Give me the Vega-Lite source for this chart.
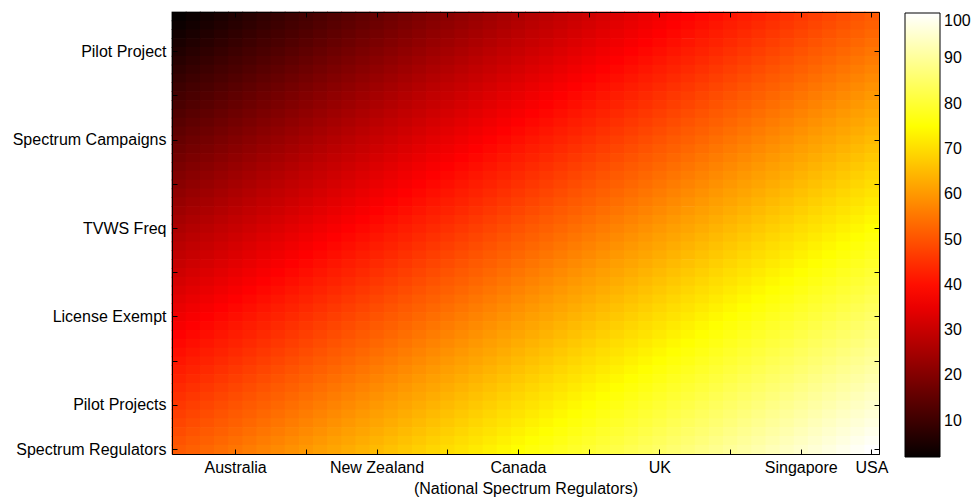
{
"$schema": "https://vega.github.io/schema/vega-lite/v6.json",
"width": 707,
"height": 442,
"autosize": "none",
"padding": {"left": 172, "top": 12, "right": 92, "bottom": 46},
"background": "white",
"config": {
  "font": "Liberation Sans",
  "view": {"stroke": "black", "strokeWidth": 1},
  "axis": {"domain": true, "domainColor": "black", "tickColor": "black", "tickSize": -5, "labelColor": "black", "labelFont": "Liberation Sans", "labelFontSize": 16, "labelOverlap": false, "grid": false, "titleFont": "Liberation Sans", "titleFontSize": 16, "titleFontWeight": "normal", "titleColor": "black"},
  "legend": {"labelFont": "Liberation Sans", "labelFontSize": 16, "labelColor": "black"}
},
"data": {"values": [
{"x":1,"y":1,"v":2},{"x":2,"y":1,"v":3},{"x":3,"y":1,"v":4},{"x":4,"y":1,"v":5},{"x":5,"y":1,"v":6},{"x":6,"y":1,"v":7},{"x":7,"y":1,"v":8},{"x":8,"y":1,"v":9},{"x":9,"y":1,"v":10},{"x":10,"y":1,"v":11},{"x":11,"y":1,"v":12},{"x":12,"y":1,"v":13},{"x":13,"y":1,"v":14},{"x":14,"y":1,"v":15},{"x":15,"y":1,"v":16},{"x":16,"y":1,"v":17},{"x":17,"y":1,"v":18},{"x":18,"y":1,"v":19},{"x":19,"y":1,"v":20},{"x":20,"y":1,"v":21},{"x":21,"y":1,"v":22},{"x":22,"y":1,"v":23},{"x":23,"y":1,"v":24},{"x":24,"y":1,"v":25},{"x":25,"y":1,"v":26},{"x":26,"y":1,"v":27},{"x":27,"y":1,"v":28},{"x":28,"y":1,"v":29},{"x":29,"y":1,"v":30},{"x":30,"y":1,"v":31},{"x":31,"y":1,"v":32},{"x":32,"y":1,"v":33},{"x":33,"y":1,"v":34},{"x":34,"y":1,"v":35},{"x":35,"y":1,"v":36},{"x":36,"y":1,"v":37},{"x":37,"y":1,"v":38},{"x":38,"y":1,"v":39},{"x":39,"y":1,"v":40},{"x":40,"y":1,"v":41},{"x":41,"y":1,"v":42},{"x":42,"y":1,"v":43},{"x":43,"y":1,"v":44},{"x":44,"y":1,"v":45},{"x":45,"y":1,"v":46},{"x":46,"y":1,"v":47},{"x":47,"y":1,"v":48},{"x":48,"y":1,"v":49},{"x":49,"y":1,"v":50},{"x":50,"y":1,"v":51},
{"x":1,"y":2,"v":3},{"x":2,"y":2,"v":4},{"x":3,"y":2,"v":5},{"x":4,"y":2,"v":6},{"x":5,"y":2,"v":7},{"x":6,"y":2,"v":8},{"x":7,"y":2,"v":9},{"x":8,"y":2,"v":10},{"x":9,"y":2,"v":11},{"x":10,"y":2,"v":12},{"x":11,"y":2,"v":13},{"x":12,"y":2,"v":14},{"x":13,"y":2,"v":15},{"x":14,"y":2,"v":16},{"x":15,"y":2,"v":17},{"x":16,"y":2,"v":18},{"x":17,"y":2,"v":19},{"x":18,"y":2,"v":20},{"x":19,"y":2,"v":21},{"x":20,"y":2,"v":22},{"x":21,"y":2,"v":23},{"x":22,"y":2,"v":24},{"x":23,"y":2,"v":25},{"x":24,"y":2,"v":26},{"x":25,"y":2,"v":27},{"x":26,"y":2,"v":28},{"x":27,"y":2,"v":29},{"x":28,"y":2,"v":30},{"x":29,"y":2,"v":31},{"x":30,"y":2,"v":32},{"x":31,"y":2,"v":33},{"x":32,"y":2,"v":34},{"x":33,"y":2,"v":35},{"x":34,"y":2,"v":36},{"x":35,"y":2,"v":37},{"x":36,"y":2,"v":38},{"x":37,"y":2,"v":39},{"x":38,"y":2,"v":40},{"x":39,"y":2,"v":41},{"x":40,"y":2,"v":42},{"x":41,"y":2,"v":43},{"x":42,"y":2,"v":44},{"x":43,"y":2,"v":45},{"x":44,"y":2,"v":46},{"x":45,"y":2,"v":47},{"x":46,"y":2,"v":48},{"x":47,"y":2,"v":49},{"x":48,"y":2,"v":50},{"x":49,"y":2,"v":51},{"x":50,"y":2,"v":52},
{"x":1,"y":3,"v":4},{"x":2,"y":3,"v":5},{"x":3,"y":3,"v":6},{"x":4,"y":3,"v":7},{"x":5,"y":3,"v":8},{"x":6,"y":3,"v":9},{"x":7,"y":3,"v":10},{"x":8,"y":3,"v":11},{"x":9,"y":3,"v":12},{"x":10,"y":3,"v":13},{"x":11,"y":3,"v":14},{"x":12,"y":3,"v":15},{"x":13,"y":3,"v":16},{"x":14,"y":3,"v":17},{"x":15,"y":3,"v":18},{"x":16,"y":3,"v":19},{"x":17,"y":3,"v":20},{"x":18,"y":3,"v":21},{"x":19,"y":3,"v":22},{"x":20,"y":3,"v":23},{"x":21,"y":3,"v":24},{"x":22,"y":3,"v":25},{"x":23,"y":3,"v":26},{"x":24,"y":3,"v":27},{"x":25,"y":3,"v":28},{"x":26,"y":3,"v":29},{"x":27,"y":3,"v":30},{"x":28,"y":3,"v":31},{"x":29,"y":3,"v":32},{"x":30,"y":3,"v":33},{"x":31,"y":3,"v":34},{"x":32,"y":3,"v":35},{"x":33,"y":3,"v":36},{"x":34,"y":3,"v":37},{"x":35,"y":3,"v":38},{"x":36,"y":3,"v":39},{"x":37,"y":3,"v":40},{"x":38,"y":3,"v":41},{"x":39,"y":3,"v":42},{"x":40,"y":3,"v":43},{"x":41,"y":3,"v":44},{"x":42,"y":3,"v":45},{"x":43,"y":3,"v":46},{"x":44,"y":3,"v":47},{"x":45,"y":3,"v":48},{"x":46,"y":3,"v":49},{"x":47,"y":3,"v":50},{"x":48,"y":3,"v":51},{"x":49,"y":3,"v":52},{"x":50,"y":3,"v":53},
{"x":1,"y":4,"v":5},{"x":2,"y":4,"v":6},{"x":3,"y":4,"v":7},{"x":4,"y":4,"v":8},{"x":5,"y":4,"v":9},{"x":6,"y":4,"v":10},{"x":7,"y":4,"v":11},{"x":8,"y":4,"v":12},{"x":9,"y":4,"v":13},{"x":10,"y":4,"v":14},{"x":11,"y":4,"v":15},{"x":12,"y":4,"v":16},{"x":13,"y":4,"v":17},{"x":14,"y":4,"v":18},{"x":15,"y":4,"v":19},{"x":16,"y":4,"v":20},{"x":17,"y":4,"v":21},{"x":18,"y":4,"v":22},{"x":19,"y":4,"v":23},{"x":20,"y":4,"v":24},{"x":21,"y":4,"v":25},{"x":22,"y":4,"v":26},{"x":23,"y":4,"v":27},{"x":24,"y":4,"v":28},{"x":25,"y":4,"v":29},{"x":26,"y":4,"v":30},{"x":27,"y":4,"v":31},{"x":28,"y":4,"v":32},{"x":29,"y":4,"v":33},{"x":30,"y":4,"v":34},{"x":31,"y":4,"v":35},{"x":32,"y":4,"v":36},{"x":33,"y":4,"v":37},{"x":34,"y":4,"v":38},{"x":35,"y":4,"v":39},{"x":36,"y":4,"v":40},{"x":37,"y":4,"v":41},{"x":38,"y":4,"v":42},{"x":39,"y":4,"v":43},{"x":40,"y":4,"v":44},{"x":41,"y":4,"v":45},{"x":42,"y":4,"v":46},{"x":43,"y":4,"v":47},{"x":44,"y":4,"v":48},{"x":45,"y":4,"v":49},{"x":46,"y":4,"v":50},{"x":47,"y":4,"v":51},{"x":48,"y":4,"v":52},{"x":49,"y":4,"v":53},{"x":50,"y":4,"v":54},
{"x":1,"y":5,"v":6},{"x":2,"y":5,"v":7},{"x":3,"y":5,"v":8},{"x":4,"y":5,"v":9},{"x":5,"y":5,"v":10},{"x":6,"y":5,"v":11},{"x":7,"y":5,"v":12},{"x":8,"y":5,"v":13},{"x":9,"y":5,"v":14},{"x":10,"y":5,"v":15},{"x":11,"y":5,"v":16},{"x":12,"y":5,"v":17},{"x":13,"y":5,"v":18},{"x":14,"y":5,"v":19},{"x":15,"y":5,"v":20},{"x":16,"y":5,"v":21},{"x":17,"y":5,"v":22},{"x":18,"y":5,"v":23},{"x":19,"y":5,"v":24},{"x":20,"y":5,"v":25},{"x":21,"y":5,"v":26},{"x":22,"y":5,"v":27},{"x":23,"y":5,"v":28},{"x":24,"y":5,"v":29},{"x":25,"y":5,"v":30},{"x":26,"y":5,"v":31},{"x":27,"y":5,"v":32},{"x":28,"y":5,"v":33},{"x":29,"y":5,"v":34},{"x":30,"y":5,"v":35},{"x":31,"y":5,"v":36},{"x":32,"y":5,"v":37},{"x":33,"y":5,"v":38},{"x":34,"y":5,"v":39},{"x":35,"y":5,"v":40},{"x":36,"y":5,"v":41},{"x":37,"y":5,"v":42},{"x":38,"y":5,"v":43},{"x":39,"y":5,"v":44},{"x":40,"y":5,"v":45},{"x":41,"y":5,"v":46},{"x":42,"y":5,"v":47},{"x":43,"y":5,"v":48},{"x":44,"y":5,"v":49},{"x":45,"y":5,"v":50},{"x":46,"y":5,"v":51},{"x":47,"y":5,"v":52},{"x":48,"y":5,"v":53},{"x":49,"y":5,"v":54},{"x":50,"y":5,"v":55},
{"x":1,"y":6,"v":7},{"x":2,"y":6,"v":8},{"x":3,"y":6,"v":9},{"x":4,"y":6,"v":10},{"x":5,"y":6,"v":11},{"x":6,"y":6,"v":12},{"x":7,"y":6,"v":13},{"x":8,"y":6,"v":14},{"x":9,"y":6,"v":15},{"x":10,"y":6,"v":16},{"x":11,"y":6,"v":17},{"x":12,"y":6,"v":18},{"x":13,"y":6,"v":19},{"x":14,"y":6,"v":20},{"x":15,"y":6,"v":21},{"x":16,"y":6,"v":22},{"x":17,"y":6,"v":23},{"x":18,"y":6,"v":24},{"x":19,"y":6,"v":25},{"x":20,"y":6,"v":26},{"x":21,"y":6,"v":27},{"x":22,"y":6,"v":28},{"x":23,"y":6,"v":29},{"x":24,"y":6,"v":30},{"x":25,"y":6,"v":31},{"x":26,"y":6,"v":32},{"x":27,"y":6,"v":33},{"x":28,"y":6,"v":34},{"x":29,"y":6,"v":35},{"x":30,"y":6,"v":36},{"x":31,"y":6,"v":37},{"x":32,"y":6,"v":38},{"x":33,"y":6,"v":39},{"x":34,"y":6,"v":40},{"x":35,"y":6,"v":41},{"x":36,"y":6,"v":42},{"x":37,"y":6,"v":43},{"x":38,"y":6,"v":44},{"x":39,"y":6,"v":45},{"x":40,"y":6,"v":46},{"x":41,"y":6,"v":47},{"x":42,"y":6,"v":48},{"x":43,"y":6,"v":49},{"x":44,"y":6,"v":50},{"x":45,"y":6,"v":51},{"x":46,"y":6,"v":52},{"x":47,"y":6,"v":53},{"x":48,"y":6,"v":54},{"x":49,"y":6,"v":55},{"x":50,"y":6,"v":56},
{"x":1,"y":7,"v":8},{"x":2,"y":7,"v":9},{"x":3,"y":7,"v":10},{"x":4,"y":7,"v":11},{"x":5,"y":7,"v":12},{"x":6,"y":7,"v":13},{"x":7,"y":7,"v":14},{"x":8,"y":7,"v":15},{"x":9,"y":7,"v":16},{"x":10,"y":7,"v":17},{"x":11,"y":7,"v":18},{"x":12,"y":7,"v":19},{"x":13,"y":7,"v":20},{"x":14,"y":7,"v":21},{"x":15,"y":7,"v":22},{"x":16,"y":7,"v":23},{"x":17,"y":7,"v":24},{"x":18,"y":7,"v":25},{"x":19,"y":7,"v":26},{"x":20,"y":7,"v":27},{"x":21,"y":7,"v":28},{"x":22,"y":7,"v":29},{"x":23,"y":7,"v":30},{"x":24,"y":7,"v":31},{"x":25,"y":7,"v":32},{"x":26,"y":7,"v":33},{"x":27,"y":7,"v":34},{"x":28,"y":7,"v":35},{"x":29,"y":7,"v":36},{"x":30,"y":7,"v":37},{"x":31,"y":7,"v":38},{"x":32,"y":7,"v":39},{"x":33,"y":7,"v":40},{"x":34,"y":7,"v":41},{"x":35,"y":7,"v":42},{"x":36,"y":7,"v":43},{"x":37,"y":7,"v":44},{"x":38,"y":7,"v":45},{"x":39,"y":7,"v":46},{"x":40,"y":7,"v":47},{"x":41,"y":7,"v":48},{"x":42,"y":7,"v":49},{"x":43,"y":7,"v":50},{"x":44,"y":7,"v":51},{"x":45,"y":7,"v":52},{"x":46,"y":7,"v":53},{"x":47,"y":7,"v":54},{"x":48,"y":7,"v":55},{"x":49,"y":7,"v":56},{"x":50,"y":7,"v":57},
{"x":1,"y":8,"v":9},{"x":2,"y":8,"v":10},{"x":3,"y":8,"v":11},{"x":4,"y":8,"v":12},{"x":5,"y":8,"v":13},{"x":6,"y":8,"v":14},{"x":7,"y":8,"v":15},{"x":8,"y":8,"v":16},{"x":9,"y":8,"v":17},{"x":10,"y":8,"v":18},{"x":11,"y":8,"v":19},{"x":12,"y":8,"v":20},{"x":13,"y":8,"v":21},{"x":14,"y":8,"v":22},{"x":15,"y":8,"v":23},{"x":16,"y":8,"v":24},{"x":17,"y":8,"v":25},{"x":18,"y":8,"v":26},{"x":19,"y":8,"v":27},{"x":20,"y":8,"v":28},{"x":21,"y":8,"v":29},{"x":22,"y":8,"v":30},{"x":23,"y":8,"v":31},{"x":24,"y":8,"v":32},{"x":25,"y":8,"v":33},{"x":26,"y":8,"v":34},{"x":27,"y":8,"v":35},{"x":28,"y":8,"v":36},{"x":29,"y":8,"v":37},{"x":30,"y":8,"v":38},{"x":31,"y":8,"v":39},{"x":32,"y":8,"v":40},{"x":33,"y":8,"v":41},{"x":34,"y":8,"v":42},{"x":35,"y":8,"v":43},{"x":36,"y":8,"v":44},{"x":37,"y":8,"v":45},{"x":38,"y":8,"v":46},{"x":39,"y":8,"v":47},{"x":40,"y":8,"v":48},{"x":41,"y":8,"v":49},{"x":42,"y":8,"v":50},{"x":43,"y":8,"v":51},{"x":44,"y":8,"v":52},{"x":45,"y":8,"v":53},{"x":46,"y":8,"v":54},{"x":47,"y":8,"v":55},{"x":48,"y":8,"v":56},{"x":49,"y":8,"v":57},{"x":50,"y":8,"v":58},
{"x":1,"y":9,"v":10},{"x":2,"y":9,"v":11},{"x":3,"y":9,"v":12},{"x":4,"y":9,"v":13},{"x":5,"y":9,"v":14},{"x":6,"y":9,"v":15},{"x":7,"y":9,"v":16},{"x":8,"y":9,"v":17},{"x":9,"y":9,"v":18},{"x":10,"y":9,"v":19},{"x":11,"y":9,"v":20},{"x":12,"y":9,"v":21},{"x":13,"y":9,"v":22},{"x":14,"y":9,"v":23},{"x":15,"y":9,"v":24},{"x":16,"y":9,"v":25},{"x":17,"y":9,"v":26},{"x":18,"y":9,"v":27},{"x":19,"y":9,"v":28},{"x":20,"y":9,"v":29},{"x":21,"y":9,"v":30},{"x":22,"y":9,"v":31},{"x":23,"y":9,"v":32},{"x":24,"y":9,"v":33},{"x":25,"y":9,"v":34},{"x":26,"y":9,"v":35},{"x":27,"y":9,"v":36},{"x":28,"y":9,"v":37},{"x":29,"y":9,"v":38},{"x":30,"y":9,"v":39},{"x":31,"y":9,"v":40},{"x":32,"y":9,"v":41},{"x":33,"y":9,"v":42},{"x":34,"y":9,"v":43},{"x":35,"y":9,"v":44},{"x":36,"y":9,"v":45},{"x":37,"y":9,"v":46},{"x":38,"y":9,"v":47},{"x":39,"y":9,"v":48},{"x":40,"y":9,"v":49},{"x":41,"y":9,"v":50},{"x":42,"y":9,"v":51},{"x":43,"y":9,"v":52},{"x":44,"y":9,"v":53},{"x":45,"y":9,"v":54},{"x":46,"y":9,"v":55},{"x":47,"y":9,"v":56},{"x":48,"y":9,"v":57},{"x":49,"y":9,"v":58},{"x":50,"y":9,"v":59},
{"x":1,"y":10,"v":11},{"x":2,"y":10,"v":12},{"x":3,"y":10,"v":13},{"x":4,"y":10,"v":14},{"x":5,"y":10,"v":15},{"x":6,"y":10,"v":16},{"x":7,"y":10,"v":17},{"x":8,"y":10,"v":18},{"x":9,"y":10,"v":19},{"x":10,"y":10,"v":20},{"x":11,"y":10,"v":21},{"x":12,"y":10,"v":22},{"x":13,"y":10,"v":23},{"x":14,"y":10,"v":24},{"x":15,"y":10,"v":25},{"x":16,"y":10,"v":26},{"x":17,"y":10,"v":27},{"x":18,"y":10,"v":28},{"x":19,"y":10,"v":29},{"x":20,"y":10,"v":30},{"x":21,"y":10,"v":31},{"x":22,"y":10,"v":32},{"x":23,"y":10,"v":33},{"x":24,"y":10,"v":34},{"x":25,"y":10,"v":35},{"x":26,"y":10,"v":36},{"x":27,"y":10,"v":37},{"x":28,"y":10,"v":38},{"x":29,"y":10,"v":39},{"x":30,"y":10,"v":40},{"x":31,"y":10,"v":41},{"x":32,"y":10,"v":42},{"x":33,"y":10,"v":43},{"x":34,"y":10,"v":44},{"x":35,"y":10,"v":45},{"x":36,"y":10,"v":46},{"x":37,"y":10,"v":47},{"x":38,"y":10,"v":48},{"x":39,"y":10,"v":49},{"x":40,"y":10,"v":50},{"x":41,"y":10,"v":51},{"x":42,"y":10,"v":52},{"x":43,"y":10,"v":53},{"x":44,"y":10,"v":54},{"x":45,"y":10,"v":55},{"x":46,"y":10,"v":56},{"x":47,"y":10,"v":57},{"x":48,"y":10,"v":58},{"x":49,"y":10,"v":59},{"x":50,"y":10,"v":60},
{"x":1,"y":11,"v":12},{"x":2,"y":11,"v":13},{"x":3,"y":11,"v":14},{"x":4,"y":11,"v":15},{"x":5,"y":11,"v":16},{"x":6,"y":11,"v":17},{"x":7,"y":11,"v":18},{"x":8,"y":11,"v":19},{"x":9,"y":11,"v":20},{"x":10,"y":11,"v":21},{"x":11,"y":11,"v":22},{"x":12,"y":11,"v":23},{"x":13,"y":11,"v":24},{"x":14,"y":11,"v":25},{"x":15,"y":11,"v":26},{"x":16,"y":11,"v":27},{"x":17,"y":11,"v":28},{"x":18,"y":11,"v":29},{"x":19,"y":11,"v":30},{"x":20,"y":11,"v":31},{"x":21,"y":11,"v":32},{"x":22,"y":11,"v":33},{"x":23,"y":11,"v":34},{"x":24,"y":11,"v":35},{"x":25,"y":11,"v":36},{"x":26,"y":11,"v":37},{"x":27,"y":11,"v":38},{"x":28,"y":11,"v":39},{"x":29,"y":11,"v":40},{"x":30,"y":11,"v":41},{"x":31,"y":11,"v":42},{"x":32,"y":11,"v":43},{"x":33,"y":11,"v":44},{"x":34,"y":11,"v":45},{"x":35,"y":11,"v":46},{"x":36,"y":11,"v":47},{"x":37,"y":11,"v":48},{"x":38,"y":11,"v":49},{"x":39,"y":11,"v":50},{"x":40,"y":11,"v":51},{"x":41,"y":11,"v":52},{"x":42,"y":11,"v":53},{"x":43,"y":11,"v":54},{"x":44,"y":11,"v":55},{"x":45,"y":11,"v":56},{"x":46,"y":11,"v":57},{"x":47,"y":11,"v":58},{"x":48,"y":11,"v":59},{"x":49,"y":11,"v":60},{"x":50,"y":11,"v":61},
{"x":1,"y":12,"v":13},{"x":2,"y":12,"v":14},{"x":3,"y":12,"v":15},{"x":4,"y":12,"v":16},{"x":5,"y":12,"v":17},{"x":6,"y":12,"v":18},{"x":7,"y":12,"v":19},{"x":8,"y":12,"v":20},{"x":9,"y":12,"v":21},{"x":10,"y":12,"v":22},{"x":11,"y":12,"v":23},{"x":12,"y":12,"v":24},{"x":13,"y":12,"v":25},{"x":14,"y":12,"v":26},{"x":15,"y":12,"v":27},{"x":16,"y":12,"v":28},{"x":17,"y":12,"v":29},{"x":18,"y":12,"v":30},{"x":19,"y":12,"v":31},{"x":20,"y":12,"v":32},{"x":21,"y":12,"v":33},{"x":22,"y":12,"v":34},{"x":23,"y":12,"v":35},{"x":24,"y":12,"v":36},{"x":25,"y":12,"v":37},{"x":26,"y":12,"v":38},{"x":27,"y":12,"v":39},{"x":28,"y":12,"v":40},{"x":29,"y":12,"v":41},{"x":30,"y":12,"v":42},{"x":31,"y":12,"v":43},{"x":32,"y":12,"v":44},{"x":33,"y":12,"v":45},{"x":34,"y":12,"v":46},{"x":35,"y":12,"v":47},{"x":36,"y":12,"v":48},{"x":37,"y":12,"v":49},{"x":38,"y":12,"v":50},{"x":39,"y":12,"v":51},{"x":40,"y":12,"v":52},{"x":41,"y":12,"v":53},{"x":42,"y":12,"v":54},{"x":43,"y":12,"v":55},{"x":44,"y":12,"v":56},{"x":45,"y":12,"v":57},{"x":46,"y":12,"v":58},{"x":47,"y":12,"v":59},{"x":48,"y":12,"v":60},{"x":49,"y":12,"v":61},{"x":50,"y":12,"v":62},
{"x":1,"y":13,"v":14},{"x":2,"y":13,"v":15},{"x":3,"y":13,"v":16},{"x":4,"y":13,"v":17},{"x":5,"y":13,"v":18},{"x":6,"y":13,"v":19},{"x":7,"y":13,"v":20},{"x":8,"y":13,"v":21},{"x":9,"y":13,"v":22},{"x":10,"y":13,"v":23},{"x":11,"y":13,"v":24},{"x":12,"y":13,"v":25},{"x":13,"y":13,"v":26},{"x":14,"y":13,"v":27},{"x":15,"y":13,"v":28},{"x":16,"y":13,"v":29},{"x":17,"y":13,"v":30},{"x":18,"y":13,"v":31},{"x":19,"y":13,"v":32},{"x":20,"y":13,"v":33},{"x":21,"y":13,"v":34},{"x":22,"y":13,"v":35},{"x":23,"y":13,"v":36},{"x":24,"y":13,"v":37},{"x":25,"y":13,"v":38},{"x":26,"y":13,"v":39},{"x":27,"y":13,"v":40},{"x":28,"y":13,"v":41},{"x":29,"y":13,"v":42},{"x":30,"y":13,"v":43},{"x":31,"y":13,"v":44},{"x":32,"y":13,"v":45},{"x":33,"y":13,"v":46},{"x":34,"y":13,"v":47},{"x":35,"y":13,"v":48},{"x":36,"y":13,"v":49},{"x":37,"y":13,"v":50},{"x":38,"y":13,"v":51},{"x":39,"y":13,"v":52},{"x":40,"y":13,"v":53},{"x":41,"y":13,"v":54},{"x":42,"y":13,"v":55},{"x":43,"y":13,"v":56},{"x":44,"y":13,"v":57},{"x":45,"y":13,"v":58},{"x":46,"y":13,"v":59},{"x":47,"y":13,"v":60},{"x":48,"y":13,"v":61},{"x":49,"y":13,"v":62},{"x":50,"y":13,"v":63},
{"x":1,"y":14,"v":15},{"x":2,"y":14,"v":16},{"x":3,"y":14,"v":17},{"x":4,"y":14,"v":18},{"x":5,"y":14,"v":19},{"x":6,"y":14,"v":20},{"x":7,"y":14,"v":21},{"x":8,"y":14,"v":22},{"x":9,"y":14,"v":23},{"x":10,"y":14,"v":24},{"x":11,"y":14,"v":25},{"x":12,"y":14,"v":26},{"x":13,"y":14,"v":27},{"x":14,"y":14,"v":28},{"x":15,"y":14,"v":29},{"x":16,"y":14,"v":30},{"x":17,"y":14,"v":31},{"x":18,"y":14,"v":32},{"x":19,"y":14,"v":33},{"x":20,"y":14,"v":34},{"x":21,"y":14,"v":35},{"x":22,"y":14,"v":36},{"x":23,"y":14,"v":37},{"x":24,"y":14,"v":38},{"x":25,"y":14,"v":39},{"x":26,"y":14,"v":40},{"x":27,"y":14,"v":41},{"x":28,"y":14,"v":42},{"x":29,"y":14,"v":43},{"x":30,"y":14,"v":44},{"x":31,"y":14,"v":45},{"x":32,"y":14,"v":46},{"x":33,"y":14,"v":47},{"x":34,"y":14,"v":48},{"x":35,"y":14,"v":49},{"x":36,"y":14,"v":50},{"x":37,"y":14,"v":51},{"x":38,"y":14,"v":52},{"x":39,"y":14,"v":53},{"x":40,"y":14,"v":54},{"x":41,"y":14,"v":55},{"x":42,"y":14,"v":56},{"x":43,"y":14,"v":57},{"x":44,"y":14,"v":58},{"x":45,"y":14,"v":59},{"x":46,"y":14,"v":60},{"x":47,"y":14,"v":61},{"x":48,"y":14,"v":62},{"x":49,"y":14,"v":63},{"x":50,"y":14,"v":64},
{"x":1,"y":15,"v":16},{"x":2,"y":15,"v":17},{"x":3,"y":15,"v":18},{"x":4,"y":15,"v":19},{"x":5,"y":15,"v":20},{"x":6,"y":15,"v":21},{"x":7,"y":15,"v":22},{"x":8,"y":15,"v":23},{"x":9,"y":15,"v":24},{"x":10,"y":15,"v":25},{"x":11,"y":15,"v":26},{"x":12,"y":15,"v":27},{"x":13,"y":15,"v":28},{"x":14,"y":15,"v":29},{"x":15,"y":15,"v":30},{"x":16,"y":15,"v":31},{"x":17,"y":15,"v":32},{"x":18,"y":15,"v":33},{"x":19,"y":15,"v":34},{"x":20,"y":15,"v":35},{"x":21,"y":15,"v":36},{"x":22,"y":15,"v":37},{"x":23,"y":15,"v":38},{"x":24,"y":15,"v":39},{"x":25,"y":15,"v":40},{"x":26,"y":15,"v":41},{"x":27,"y":15,"v":42},{"x":28,"y":15,"v":43},{"x":29,"y":15,"v":44},{"x":30,"y":15,"v":45},{"x":31,"y":15,"v":46},{"x":32,"y":15,"v":47},{"x":33,"y":15,"v":48},{"x":34,"y":15,"v":49},{"x":35,"y":15,"v":50},{"x":36,"y":15,"v":51},{"x":37,"y":15,"v":52},{"x":38,"y":15,"v":53},{"x":39,"y":15,"v":54},{"x":40,"y":15,"v":55},{"x":41,"y":15,"v":56},{"x":42,"y":15,"v":57},{"x":43,"y":15,"v":58},{"x":44,"y":15,"v":59},{"x":45,"y":15,"v":60},{"x":46,"y":15,"v":61},{"x":47,"y":15,"v":62},{"x":48,"y":15,"v":63},{"x":49,"y":15,"v":64},{"x":50,"y":15,"v":65},
{"x":1,"y":16,"v":17},{"x":2,"y":16,"v":18},{"x":3,"y":16,"v":19},{"x":4,"y":16,"v":20},{"x":5,"y":16,"v":21},{"x":6,"y":16,"v":22},{"x":7,"y":16,"v":23},{"x":8,"y":16,"v":24},{"x":9,"y":16,"v":25},{"x":10,"y":16,"v":26},{"x":11,"y":16,"v":27},{"x":12,"y":16,"v":28},{"x":13,"y":16,"v":29},{"x":14,"y":16,"v":30},{"x":15,"y":16,"v":31},{"x":16,"y":16,"v":32},{"x":17,"y":16,"v":33},{"x":18,"y":16,"v":34},{"x":19,"y":16,"v":35},{"x":20,"y":16,"v":36},{"x":21,"y":16,"v":37},{"x":22,"y":16,"v":38},{"x":23,"y":16,"v":39},{"x":24,"y":16,"v":40},{"x":25,"y":16,"v":41},{"x":26,"y":16,"v":42},{"x":27,"y":16,"v":43},{"x":28,"y":16,"v":44},{"x":29,"y":16,"v":45},{"x":30,"y":16,"v":46},{"x":31,"y":16,"v":47},{"x":32,"y":16,"v":48},{"x":33,"y":16,"v":49},{"x":34,"y":16,"v":50},{"x":35,"y":16,"v":51},{"x":36,"y":16,"v":52},{"x":37,"y":16,"v":53},{"x":38,"y":16,"v":54},{"x":39,"y":16,"v":55},{"x":40,"y":16,"v":56},{"x":41,"y":16,"v":57},{"x":42,"y":16,"v":58},{"x":43,"y":16,"v":59},{"x":44,"y":16,"v":60},{"x":45,"y":16,"v":61},{"x":46,"y":16,"v":62},{"x":47,"y":16,"v":63},{"x":48,"y":16,"v":64},{"x":49,"y":16,"v":65},{"x":50,"y":16,"v":66},
{"x":1,"y":17,"v":18},{"x":2,"y":17,"v":19},{"x":3,"y":17,"v":20},{"x":4,"y":17,"v":21},{"x":5,"y":17,"v":22},{"x":6,"y":17,"v":23},{"x":7,"y":17,"v":24},{"x":8,"y":17,"v":25},{"x":9,"y":17,"v":26},{"x":10,"y":17,"v":27},{"x":11,"y":17,"v":28},{"x":12,"y":17,"v":29},{"x":13,"y":17,"v":30},{"x":14,"y":17,"v":31},{"x":15,"y":17,"v":32},{"x":16,"y":17,"v":33},{"x":17,"y":17,"v":34},{"x":18,"y":17,"v":35},{"x":19,"y":17,"v":36},{"x":20,"y":17,"v":37},{"x":21,"y":17,"v":38},{"x":22,"y":17,"v":39},{"x":23,"y":17,"v":40},{"x":24,"y":17,"v":41},{"x":25,"y":17,"v":42},{"x":26,"y":17,"v":43},{"x":27,"y":17,"v":44},{"x":28,"y":17,"v":45},{"x":29,"y":17,"v":46},{"x":30,"y":17,"v":47},{"x":31,"y":17,"v":48},{"x":32,"y":17,"v":49},{"x":33,"y":17,"v":50},{"x":34,"y":17,"v":51},{"x":35,"y":17,"v":52},{"x":36,"y":17,"v":53},{"x":37,"y":17,"v":54},{"x":38,"y":17,"v":55},{"x":39,"y":17,"v":56},{"x":40,"y":17,"v":57},{"x":41,"y":17,"v":58},{"x":42,"y":17,"v":59},{"x":43,"y":17,"v":60},{"x":44,"y":17,"v":61},{"x":45,"y":17,"v":62},{"x":46,"y":17,"v":63},{"x":47,"y":17,"v":64},{"x":48,"y":17,"v":65},{"x":49,"y":17,"v":66},{"x":50,"y":17,"v":67},
{"x":1,"y":18,"v":19},{"x":2,"y":18,"v":20},{"x":3,"y":18,"v":21},{"x":4,"y":18,"v":22},{"x":5,"y":18,"v":23},{"x":6,"y":18,"v":24},{"x":7,"y":18,"v":25},{"x":8,"y":18,"v":26},{"x":9,"y":18,"v":27},{"x":10,"y":18,"v":28},{"x":11,"y":18,"v":29},{"x":12,"y":18,"v":30},{"x":13,"y":18,"v":31},{"x":14,"y":18,"v":32},{"x":15,"y":18,"v":33},{"x":16,"y":18,"v":34},{"x":17,"y":18,"v":35},{"x":18,"y":18,"v":36},{"x":19,"y":18,"v":37},{"x":20,"y":18,"v":38},{"x":21,"y":18,"v":39},{"x":22,"y":18,"v":40},{"x":23,"y":18,"v":41},{"x":24,"y":18,"v":42},{"x":25,"y":18,"v":43},{"x":26,"y":18,"v":44},{"x":27,"y":18,"v":45},{"x":28,"y":18,"v":46},{"x":29,"y":18,"v":47},{"x":30,"y":18,"v":48},{"x":31,"y":18,"v":49},{"x":32,"y":18,"v":50},{"x":33,"y":18,"v":51},{"x":34,"y":18,"v":52},{"x":35,"y":18,"v":53},{"x":36,"y":18,"v":54},{"x":37,"y":18,"v":55},{"x":38,"y":18,"v":56},{"x":39,"y":18,"v":57},{"x":40,"y":18,"v":58},{"x":41,"y":18,"v":59},{"x":42,"y":18,"v":60},{"x":43,"y":18,"v":61},{"x":44,"y":18,"v":62},{"x":45,"y":18,"v":63},{"x":46,"y":18,"v":64},{"x":47,"y":18,"v":65},{"x":48,"y":18,"v":66},{"x":49,"y":18,"v":67},{"x":50,"y":18,"v":68},
{"x":1,"y":19,"v":20},{"x":2,"y":19,"v":21},{"x":3,"y":19,"v":22},{"x":4,"y":19,"v":23},{"x":5,"y":19,"v":24},{"x":6,"y":19,"v":25},{"x":7,"y":19,"v":26},{"x":8,"y":19,"v":27},{"x":9,"y":19,"v":28},{"x":10,"y":19,"v":29},{"x":11,"y":19,"v":30},{"x":12,"y":19,"v":31},{"x":13,"y":19,"v":32},{"x":14,"y":19,"v":33},{"x":15,"y":19,"v":34},{"x":16,"y":19,"v":35},{"x":17,"y":19,"v":36},{"x":18,"y":19,"v":37},{"x":19,"y":19,"v":38},{"x":20,"y":19,"v":39},{"x":21,"y":19,"v":40},{"x":22,"y":19,"v":41},{"x":23,"y":19,"v":42},{"x":24,"y":19,"v":43},{"x":25,"y":19,"v":44},{"x":26,"y":19,"v":45},{"x":27,"y":19,"v":46},{"x":28,"y":19,"v":47},{"x":29,"y":19,"v":48},{"x":30,"y":19,"v":49},{"x":31,"y":19,"v":50},{"x":32,"y":19,"v":51},{"x":33,"y":19,"v":52},{"x":34,"y":19,"v":53},{"x":35,"y":19,"v":54},{"x":36,"y":19,"v":55},{"x":37,"y":19,"v":56},{"x":38,"y":19,"v":57},{"x":39,"y":19,"v":58},{"x":40,"y":19,"v":59},{"x":41,"y":19,"v":60},{"x":42,"y":19,"v":61},{"x":43,"y":19,"v":62},{"x":44,"y":19,"v":63},{"x":45,"y":19,"v":64},{"x":46,"y":19,"v":65},{"x":47,"y":19,"v":66},{"x":48,"y":19,"v":67},{"x":49,"y":19,"v":68},{"x":50,"y":19,"v":69},
{"x":1,"y":20,"v":21},{"x":2,"y":20,"v":22},{"x":3,"y":20,"v":23},{"x":4,"y":20,"v":24},{"x":5,"y":20,"v":25},{"x":6,"y":20,"v":26},{"x":7,"y":20,"v":27},{"x":8,"y":20,"v":28},{"x":9,"y":20,"v":29},{"x":10,"y":20,"v":30},{"x":11,"y":20,"v":31},{"x":12,"y":20,"v":32},{"x":13,"y":20,"v":33},{"x":14,"y":20,"v":34},{"x":15,"y":20,"v":35},{"x":16,"y":20,"v":36},{"x":17,"y":20,"v":37},{"x":18,"y":20,"v":38},{"x":19,"y":20,"v":39},{"x":20,"y":20,"v":40},{"x":21,"y":20,"v":41},{"x":22,"y":20,"v":42},{"x":23,"y":20,"v":43},{"x":24,"y":20,"v":44},{"x":25,"y":20,"v":45},{"x":26,"y":20,"v":46},{"x":27,"y":20,"v":47},{"x":28,"y":20,"v":48},{"x":29,"y":20,"v":49},{"x":30,"y":20,"v":50},{"x":31,"y":20,"v":51},{"x":32,"y":20,"v":52},{"x":33,"y":20,"v":53},{"x":34,"y":20,"v":54},{"x":35,"y":20,"v":55},{"x":36,"y":20,"v":56},{"x":37,"y":20,"v":57},{"x":38,"y":20,"v":58},{"x":39,"y":20,"v":59},{"x":40,"y":20,"v":60},{"x":41,"y":20,"v":61},{"x":42,"y":20,"v":62},{"x":43,"y":20,"v":63},{"x":44,"y":20,"v":64},{"x":45,"y":20,"v":65},{"x":46,"y":20,"v":66},{"x":47,"y":20,"v":67},{"x":48,"y":20,"v":68},{"x":49,"y":20,"v":69},{"x":50,"y":20,"v":70},
{"x":1,"y":21,"v":22},{"x":2,"y":21,"v":23},{"x":3,"y":21,"v":24},{"x":4,"y":21,"v":25},{"x":5,"y":21,"v":26},{"x":6,"y":21,"v":27},{"x":7,"y":21,"v":28},{"x":8,"y":21,"v":29},{"x":9,"y":21,"v":30},{"x":10,"y":21,"v":31},{"x":11,"y":21,"v":32},{"x":12,"y":21,"v":33},{"x":13,"y":21,"v":34},{"x":14,"y":21,"v":35},{"x":15,"y":21,"v":36},{"x":16,"y":21,"v":37},{"x":17,"y":21,"v":38},{"x":18,"y":21,"v":39},{"x":19,"y":21,"v":40},{"x":20,"y":21,"v":41},{"x":21,"y":21,"v":42},{"x":22,"y":21,"v":43},{"x":23,"y":21,"v":44},{"x":24,"y":21,"v":45},{"x":25,"y":21,"v":46},{"x":26,"y":21,"v":47},{"x":27,"y":21,"v":48},{"x":28,"y":21,"v":49},{"x":29,"y":21,"v":50},{"x":30,"y":21,"v":51},{"x":31,"y":21,"v":52},{"x":32,"y":21,"v":53},{"x":33,"y":21,"v":54},{"x":34,"y":21,"v":55},{"x":35,"y":21,"v":56},{"x":36,"y":21,"v":57},{"x":37,"y":21,"v":58},{"x":38,"y":21,"v":59},{"x":39,"y":21,"v":60},{"x":40,"y":21,"v":61},{"x":41,"y":21,"v":62},{"x":42,"y":21,"v":63},{"x":43,"y":21,"v":64},{"x":44,"y":21,"v":65},{"x":45,"y":21,"v":66},{"x":46,"y":21,"v":67},{"x":47,"y":21,"v":68},{"x":48,"y":21,"v":69},{"x":49,"y":21,"v":70},{"x":50,"y":21,"v":71},
{"x":1,"y":22,"v":23},{"x":2,"y":22,"v":24},{"x":3,"y":22,"v":25},{"x":4,"y":22,"v":26},{"x":5,"y":22,"v":27},{"x":6,"y":22,"v":28},{"x":7,"y":22,"v":29},{"x":8,"y":22,"v":30},{"x":9,"y":22,"v":31},{"x":10,"y":22,"v":32},{"x":11,"y":22,"v":33},{"x":12,"y":22,"v":34},{"x":13,"y":22,"v":35},{"x":14,"y":22,"v":36},{"x":15,"y":22,"v":37},{"x":16,"y":22,"v":38},{"x":17,"y":22,"v":39},{"x":18,"y":22,"v":40},{"x":19,"y":22,"v":41},{"x":20,"y":22,"v":42},{"x":21,"y":22,"v":43},{"x":22,"y":22,"v":44},{"x":23,"y":22,"v":45},{"x":24,"y":22,"v":46},{"x":25,"y":22,"v":47},{"x":26,"y":22,"v":48},{"x":27,"y":22,"v":49},{"x":28,"y":22,"v":50},{"x":29,"y":22,"v":51},{"x":30,"y":22,"v":52},{"x":31,"y":22,"v":53},{"x":32,"y":22,"v":54},{"x":33,"y":22,"v":55},{"x":34,"y":22,"v":56},{"x":35,"y":22,"v":57},{"x":36,"y":22,"v":58},{"x":37,"y":22,"v":59},{"x":38,"y":22,"v":60},{"x":39,"y":22,"v":61},{"x":40,"y":22,"v":62},{"x":41,"y":22,"v":63},{"x":42,"y":22,"v":64},{"x":43,"y":22,"v":65},{"x":44,"y":22,"v":66},{"x":45,"y":22,"v":67},{"x":46,"y":22,"v":68},{"x":47,"y":22,"v":69},{"x":48,"y":22,"v":70},{"x":49,"y":22,"v":71},{"x":50,"y":22,"v":72},
{"x":1,"y":23,"v":24},{"x":2,"y":23,"v":25},{"x":3,"y":23,"v":26},{"x":4,"y":23,"v":27},{"x":5,"y":23,"v":28},{"x":6,"y":23,"v":29},{"x":7,"y":23,"v":30},{"x":8,"y":23,"v":31},{"x":9,"y":23,"v":32},{"x":10,"y":23,"v":33},{"x":11,"y":23,"v":34},{"x":12,"y":23,"v":35},{"x":13,"y":23,"v":36},{"x":14,"y":23,"v":37},{"x":15,"y":23,"v":38},{"x":16,"y":23,"v":39},{"x":17,"y":23,"v":40},{"x":18,"y":23,"v":41},{"x":19,"y":23,"v":42},{"x":20,"y":23,"v":43},{"x":21,"y":23,"v":44},{"x":22,"y":23,"v":45},{"x":23,"y":23,"v":46},{"x":24,"y":23,"v":47},{"x":25,"y":23,"v":48},{"x":26,"y":23,"v":49},{"x":27,"y":23,"v":50},{"x":28,"y":23,"v":51},{"x":29,"y":23,"v":52},{"x":30,"y":23,"v":53},{"x":31,"y":23,"v":54},{"x":32,"y":23,"v":55},{"x":33,"y":23,"v":56},{"x":34,"y":23,"v":57},{"x":35,"y":23,"v":58},{"x":36,"y":23,"v":59},{"x":37,"y":23,"v":60},{"x":38,"y":23,"v":61},{"x":39,"y":23,"v":62},{"x":40,"y":23,"v":63},{"x":41,"y":23,"v":64},{"x":42,"y":23,"v":65},{"x":43,"y":23,"v":66},{"x":44,"y":23,"v":67},{"x":45,"y":23,"v":68},{"x":46,"y":23,"v":69},{"x":47,"y":23,"v":70},{"x":48,"y":23,"v":71},{"x":49,"y":23,"v":72},{"x":50,"y":23,"v":73},
{"x":1,"y":24,"v":25},{"x":2,"y":24,"v":26},{"x":3,"y":24,"v":27},{"x":4,"y":24,"v":28},{"x":5,"y":24,"v":29},{"x":6,"y":24,"v":30},{"x":7,"y":24,"v":31},{"x":8,"y":24,"v":32},{"x":9,"y":24,"v":33},{"x":10,"y":24,"v":34},{"x":11,"y":24,"v":35},{"x":12,"y":24,"v":36},{"x":13,"y":24,"v":37},{"x":14,"y":24,"v":38},{"x":15,"y":24,"v":39},{"x":16,"y":24,"v":40},{"x":17,"y":24,"v":41},{"x":18,"y":24,"v":42},{"x":19,"y":24,"v":43},{"x":20,"y":24,"v":44},{"x":21,"y":24,"v":45},{"x":22,"y":24,"v":46},{"x":23,"y":24,"v":47},{"x":24,"y":24,"v":48},{"x":25,"y":24,"v":49},{"x":26,"y":24,"v":50},{"x":27,"y":24,"v":51},{"x":28,"y":24,"v":52},{"x":29,"y":24,"v":53},{"x":30,"y":24,"v":54},{"x":31,"y":24,"v":55},{"x":32,"y":24,"v":56},{"x":33,"y":24,"v":57},{"x":34,"y":24,"v":58},{"x":35,"y":24,"v":59},{"x":36,"y":24,"v":60},{"x":37,"y":24,"v":61},{"x":38,"y":24,"v":62},{"x":39,"y":24,"v":63},{"x":40,"y":24,"v":64},{"x":41,"y":24,"v":65},{"x":42,"y":24,"v":66},{"x":43,"y":24,"v":67},{"x":44,"y":24,"v":68},{"x":45,"y":24,"v":69},{"x":46,"y":24,"v":70},{"x":47,"y":24,"v":71},{"x":48,"y":24,"v":72},{"x":49,"y":24,"v":73},{"x":50,"y":24,"v":74},
{"x":1,"y":25,"v":26},{"x":2,"y":25,"v":27},{"x":3,"y":25,"v":28},{"x":4,"y":25,"v":29},{"x":5,"y":25,"v":30},{"x":6,"y":25,"v":31},{"x":7,"y":25,"v":32},{"x":8,"y":25,"v":33},{"x":9,"y":25,"v":34},{"x":10,"y":25,"v":35},{"x":11,"y":25,"v":36},{"x":12,"y":25,"v":37},{"x":13,"y":25,"v":38},{"x":14,"y":25,"v":39},{"x":15,"y":25,"v":40},{"x":16,"y":25,"v":41},{"x":17,"y":25,"v":42},{"x":18,"y":25,"v":43},{"x":19,"y":25,"v":44},{"x":20,"y":25,"v":45},{"x":21,"y":25,"v":46},{"x":22,"y":25,"v":47},{"x":23,"y":25,"v":48},{"x":24,"y":25,"v":49},{"x":25,"y":25,"v":50},{"x":26,"y":25,"v":51},{"x":27,"y":25,"v":52},{"x":28,"y":25,"v":53},{"x":29,"y":25,"v":54},{"x":30,"y":25,"v":55},{"x":31,"y":25,"v":56},{"x":32,"y":25,"v":57},{"x":33,"y":25,"v":58},{"x":34,"y":25,"v":59},{"x":35,"y":25,"v":60},{"x":36,"y":25,"v":61},{"x":37,"y":25,"v":62},{"x":38,"y":25,"v":63},{"x":39,"y":25,"v":64},{"x":40,"y":25,"v":65},{"x":41,"y":25,"v":66},{"x":42,"y":25,"v":67},{"x":43,"y":25,"v":68},{"x":44,"y":25,"v":69},{"x":45,"y":25,"v":70},{"x":46,"y":25,"v":71},{"x":47,"y":25,"v":72},{"x":48,"y":25,"v":73},{"x":49,"y":25,"v":74},{"x":50,"y":25,"v":75},
{"x":1,"y":26,"v":27},{"x":2,"y":26,"v":28},{"x":3,"y":26,"v":29},{"x":4,"y":26,"v":30},{"x":5,"y":26,"v":31},{"x":6,"y":26,"v":32},{"x":7,"y":26,"v":33},{"x":8,"y":26,"v":34},{"x":9,"y":26,"v":35},{"x":10,"y":26,"v":36},{"x":11,"y":26,"v":37},{"x":12,"y":26,"v":38},{"x":13,"y":26,"v":39},{"x":14,"y":26,"v":40},{"x":15,"y":26,"v":41},{"x":16,"y":26,"v":42},{"x":17,"y":26,"v":43},{"x":18,"y":26,"v":44},{"x":19,"y":26,"v":45},{"x":20,"y":26,"v":46},{"x":21,"y":26,"v":47},{"x":22,"y":26,"v":48},{"x":23,"y":26,"v":49},{"x":24,"y":26,"v":50},{"x":25,"y":26,"v":51},{"x":26,"y":26,"v":52},{"x":27,"y":26,"v":53},{"x":28,"y":26,"v":54},{"x":29,"y":26,"v":55},{"x":30,"y":26,"v":56},{"x":31,"y":26,"v":57},{"x":32,"y":26,"v":58},{"x":33,"y":26,"v":59},{"x":34,"y":26,"v":60},{"x":35,"y":26,"v":61},{"x":36,"y":26,"v":62},{"x":37,"y":26,"v":63},{"x":38,"y":26,"v":64},{"x":39,"y":26,"v":65},{"x":40,"y":26,"v":66},{"x":41,"y":26,"v":67},{"x":42,"y":26,"v":68},{"x":43,"y":26,"v":69},{"x":44,"y":26,"v":70},{"x":45,"y":26,"v":71},{"x":46,"y":26,"v":72},{"x":47,"y":26,"v":73},{"x":48,"y":26,"v":74},{"x":49,"y":26,"v":75},{"x":50,"y":26,"v":76},
{"x":1,"y":27,"v":28},{"x":2,"y":27,"v":29},{"x":3,"y":27,"v":30},{"x":4,"y":27,"v":31},{"x":5,"y":27,"v":32},{"x":6,"y":27,"v":33},{"x":7,"y":27,"v":34},{"x":8,"y":27,"v":35},{"x":9,"y":27,"v":36},{"x":10,"y":27,"v":37},{"x":11,"y":27,"v":38},{"x":12,"y":27,"v":39},{"x":13,"y":27,"v":40},{"x":14,"y":27,"v":41},{"x":15,"y":27,"v":42},{"x":16,"y":27,"v":43},{"x":17,"y":27,"v":44},{"x":18,"y":27,"v":45},{"x":19,"y":27,"v":46},{"x":20,"y":27,"v":47},{"x":21,"y":27,"v":48},{"x":22,"y":27,"v":49},{"x":23,"y":27,"v":50},{"x":24,"y":27,"v":51},{"x":25,"y":27,"v":52},{"x":26,"y":27,"v":53},{"x":27,"y":27,"v":54},{"x":28,"y":27,"v":55},{"x":29,"y":27,"v":56},{"x":30,"y":27,"v":57},{"x":31,"y":27,"v":58},{"x":32,"y":27,"v":59},{"x":33,"y":27,"v":60},{"x":34,"y":27,"v":61},{"x":35,"y":27,"v":62},{"x":36,"y":27,"v":63},{"x":37,"y":27,"v":64},{"x":38,"y":27,"v":65},{"x":39,"y":27,"v":66},{"x":40,"y":27,"v":67},{"x":41,"y":27,"v":68},{"x":42,"y":27,"v":69},{"x":43,"y":27,"v":70},{"x":44,"y":27,"v":71},{"x":45,"y":27,"v":72},{"x":46,"y":27,"v":73},{"x":47,"y":27,"v":74},{"x":48,"y":27,"v":75},{"x":49,"y":27,"v":76},{"x":50,"y":27,"v":77},
{"x":1,"y":28,"v":29},{"x":2,"y":28,"v":30},{"x":3,"y":28,"v":31},{"x":4,"y":28,"v":32},{"x":5,"y":28,"v":33},{"x":6,"y":28,"v":34},{"x":7,"y":28,"v":35},{"x":8,"y":28,"v":36},{"x":9,"y":28,"v":37},{"x":10,"y":28,"v":38},{"x":11,"y":28,"v":39},{"x":12,"y":28,"v":40},{"x":13,"y":28,"v":41},{"x":14,"y":28,"v":42},{"x":15,"y":28,"v":43},{"x":16,"y":28,"v":44},{"x":17,"y":28,"v":45},{"x":18,"y":28,"v":46},{"x":19,"y":28,"v":47},{"x":20,"y":28,"v":48},{"x":21,"y":28,"v":49},{"x":22,"y":28,"v":50},{"x":23,"y":28,"v":51},{"x":24,"y":28,"v":52},{"x":25,"y":28,"v":53},{"x":26,"y":28,"v":54},{"x":27,"y":28,"v":55},{"x":28,"y":28,"v":56},{"x":29,"y":28,"v":57},{"x":30,"y":28,"v":58},{"x":31,"y":28,"v":59},{"x":32,"y":28,"v":60},{"x":33,"y":28,"v":61},{"x":34,"y":28,"v":62},{"x":35,"y":28,"v":63},{"x":36,"y":28,"v":64},{"x":37,"y":28,"v":65},{"x":38,"y":28,"v":66},{"x":39,"y":28,"v":67},{"x":40,"y":28,"v":68},{"x":41,"y":28,"v":69},{"x":42,"y":28,"v":70},{"x":43,"y":28,"v":71},{"x":44,"y":28,"v":72},{"x":45,"y":28,"v":73},{"x":46,"y":28,"v":74},{"x":47,"y":28,"v":75},{"x":48,"y":28,"v":76},{"x":49,"y":28,"v":77},{"x":50,"y":28,"v":78},
{"x":1,"y":29,"v":30},{"x":2,"y":29,"v":31},{"x":3,"y":29,"v":32},{"x":4,"y":29,"v":33},{"x":5,"y":29,"v":34},{"x":6,"y":29,"v":35},{"x":7,"y":29,"v":36},{"x":8,"y":29,"v":37},{"x":9,"y":29,"v":38},{"x":10,"y":29,"v":39},{"x":11,"y":29,"v":40},{"x":12,"y":29,"v":41},{"x":13,"y":29,"v":42},{"x":14,"y":29,"v":43},{"x":15,"y":29,"v":44},{"x":16,"y":29,"v":45},{"x":17,"y":29,"v":46},{"x":18,"y":29,"v":47},{"x":19,"y":29,"v":48},{"x":20,"y":29,"v":49},{"x":21,"y":29,"v":50},{"x":22,"y":29,"v":51},{"x":23,"y":29,"v":52},{"x":24,"y":29,"v":53},{"x":25,"y":29,"v":54},{"x":26,"y":29,"v":55},{"x":27,"y":29,"v":56},{"x":28,"y":29,"v":57},{"x":29,"y":29,"v":58},{"x":30,"y":29,"v":59},{"x":31,"y":29,"v":60},{"x":32,"y":29,"v":61},{"x":33,"y":29,"v":62},{"x":34,"y":29,"v":63},{"x":35,"y":29,"v":64},{"x":36,"y":29,"v":65},{"x":37,"y":29,"v":66},{"x":38,"y":29,"v":67},{"x":39,"y":29,"v":68},{"x":40,"y":29,"v":69},{"x":41,"y":29,"v":70},{"x":42,"y":29,"v":71},{"x":43,"y":29,"v":72},{"x":44,"y":29,"v":73},{"x":45,"y":29,"v":74},{"x":46,"y":29,"v":75},{"x":47,"y":29,"v":76},{"x":48,"y":29,"v":77},{"x":49,"y":29,"v":78},{"x":50,"y":29,"v":79},
{"x":1,"y":30,"v":31},{"x":2,"y":30,"v":32},{"x":3,"y":30,"v":33},{"x":4,"y":30,"v":34},{"x":5,"y":30,"v":35},{"x":6,"y":30,"v":36},{"x":7,"y":30,"v":37},{"x":8,"y":30,"v":38},{"x":9,"y":30,"v":39},{"x":10,"y":30,"v":40},{"x":11,"y":30,"v":41},{"x":12,"y":30,"v":42},{"x":13,"y":30,"v":43},{"x":14,"y":30,"v":44},{"x":15,"y":30,"v":45},{"x":16,"y":30,"v":46},{"x":17,"y":30,"v":47},{"x":18,"y":30,"v":48},{"x":19,"y":30,"v":49},{"x":20,"y":30,"v":50},{"x":21,"y":30,"v":51},{"x":22,"y":30,"v":52},{"x":23,"y":30,"v":53},{"x":24,"y":30,"v":54},{"x":25,"y":30,"v":55},{"x":26,"y":30,"v":56},{"x":27,"y":30,"v":57},{"x":28,"y":30,"v":58},{"x":29,"y":30,"v":59},{"x":30,"y":30,"v":60},{"x":31,"y":30,"v":61},{"x":32,"y":30,"v":62},{"x":33,"y":30,"v":63},{"x":34,"y":30,"v":64},{"x":35,"y":30,"v":65},{"x":36,"y":30,"v":66},{"x":37,"y":30,"v":67},{"x":38,"y":30,"v":68},{"x":39,"y":30,"v":69},{"x":40,"y":30,"v":70},{"x":41,"y":30,"v":71},{"x":42,"y":30,"v":72},{"x":43,"y":30,"v":73},{"x":44,"y":30,"v":74},{"x":45,"y":30,"v":75},{"x":46,"y":30,"v":76},{"x":47,"y":30,"v":77},{"x":48,"y":30,"v":78},{"x":49,"y":30,"v":79},{"x":50,"y":30,"v":80},
{"x":1,"y":31,"v":32},{"x":2,"y":31,"v":33},{"x":3,"y":31,"v":34},{"x":4,"y":31,"v":35},{"x":5,"y":31,"v":36},{"x":6,"y":31,"v":37},{"x":7,"y":31,"v":38},{"x":8,"y":31,"v":39},{"x":9,"y":31,"v":40},{"x":10,"y":31,"v":41},{"x":11,"y":31,"v":42},{"x":12,"y":31,"v":43},{"x":13,"y":31,"v":44},{"x":14,"y":31,"v":45},{"x":15,"y":31,"v":46},{"x":16,"y":31,"v":47},{"x":17,"y":31,"v":48},{"x":18,"y":31,"v":49},{"x":19,"y":31,"v":50},{"x":20,"y":31,"v":51},{"x":21,"y":31,"v":52},{"x":22,"y":31,"v":53},{"x":23,"y":31,"v":54},{"x":24,"y":31,"v":55},{"x":25,"y":31,"v":56},{"x":26,"y":31,"v":57},{"x":27,"y":31,"v":58},{"x":28,"y":31,"v":59},{"x":29,"y":31,"v":60},{"x":30,"y":31,"v":61},{"x":31,"y":31,"v":62},{"x":32,"y":31,"v":63},{"x":33,"y":31,"v":64},{"x":34,"y":31,"v":65},{"x":35,"y":31,"v":66},{"x":36,"y":31,"v":67},{"x":37,"y":31,"v":68},{"x":38,"y":31,"v":69},{"x":39,"y":31,"v":70},{"x":40,"y":31,"v":71},{"x":41,"y":31,"v":72},{"x":42,"y":31,"v":73},{"x":43,"y":31,"v":74},{"x":44,"y":31,"v":75},{"x":45,"y":31,"v":76},{"x":46,"y":31,"v":77},{"x":47,"y":31,"v":78},{"x":48,"y":31,"v":79},{"x":49,"y":31,"v":80},{"x":50,"y":31,"v":81},
{"x":1,"y":32,"v":33},{"x":2,"y":32,"v":34},{"x":3,"y":32,"v":35},{"x":4,"y":32,"v":36},{"x":5,"y":32,"v":37},{"x":6,"y":32,"v":38},{"x":7,"y":32,"v":39},{"x":8,"y":32,"v":40},{"x":9,"y":32,"v":41},{"x":10,"y":32,"v":42},{"x":11,"y":32,"v":43},{"x":12,"y":32,"v":44},{"x":13,"y":32,"v":45},{"x":14,"y":32,"v":46},{"x":15,"y":32,"v":47},{"x":16,"y":32,"v":48},{"x":17,"y":32,"v":49},{"x":18,"y":32,"v":50},{"x":19,"y":32,"v":51},{"x":20,"y":32,"v":52},{"x":21,"y":32,"v":53},{"x":22,"y":32,"v":54},{"x":23,"y":32,"v":55},{"x":24,"y":32,"v":56},{"x":25,"y":32,"v":57},{"x":26,"y":32,"v":58},{"x":27,"y":32,"v":59},{"x":28,"y":32,"v":60},{"x":29,"y":32,"v":61},{"x":30,"y":32,"v":62},{"x":31,"y":32,"v":63},{"x":32,"y":32,"v":64},{"x":33,"y":32,"v":65},{"x":34,"y":32,"v":66},{"x":35,"y":32,"v":67},{"x":36,"y":32,"v":68},{"x":37,"y":32,"v":69},{"x":38,"y":32,"v":70},{"x":39,"y":32,"v":71},{"x":40,"y":32,"v":72},{"x":41,"y":32,"v":73},{"x":42,"y":32,"v":74},{"x":43,"y":32,"v":75},{"x":44,"y":32,"v":76},{"x":45,"y":32,"v":77},{"x":46,"y":32,"v":78},{"x":47,"y":32,"v":79},{"x":48,"y":32,"v":80},{"x":49,"y":32,"v":81},{"x":50,"y":32,"v":82},
{"x":1,"y":33,"v":34},{"x":2,"y":33,"v":35},{"x":3,"y":33,"v":36},{"x":4,"y":33,"v":37},{"x":5,"y":33,"v":38},{"x":6,"y":33,"v":39},{"x":7,"y":33,"v":40},{"x":8,"y":33,"v":41},{"x":9,"y":33,"v":42},{"x":10,"y":33,"v":43},{"x":11,"y":33,"v":44},{"x":12,"y":33,"v":45},{"x":13,"y":33,"v":46},{"x":14,"y":33,"v":47},{"x":15,"y":33,"v":48},{"x":16,"y":33,"v":49},{"x":17,"y":33,"v":50},{"x":18,"y":33,"v":51},{"x":19,"y":33,"v":52},{"x":20,"y":33,"v":53},{"x":21,"y":33,"v":54},{"x":22,"y":33,"v":55},{"x":23,"y":33,"v":56},{"x":24,"y":33,"v":57},{"x":25,"y":33,"v":58},{"x":26,"y":33,"v":59},{"x":27,"y":33,"v":60},{"x":28,"y":33,"v":61},{"x":29,"y":33,"v":62},{"x":30,"y":33,"v":63},{"x":31,"y":33,"v":64},{"x":32,"y":33,"v":65},{"x":33,"y":33,"v":66},{"x":34,"y":33,"v":67},{"x":35,"y":33,"v":68},{"x":36,"y":33,"v":69},{"x":37,"y":33,"v":70},{"x":38,"y":33,"v":71},{"x":39,"y":33,"v":72},{"x":40,"y":33,"v":73},{"x":41,"y":33,"v":74},{"x":42,"y":33,"v":75},{"x":43,"y":33,"v":76},{"x":44,"y":33,"v":77},{"x":45,"y":33,"v":78},{"x":46,"y":33,"v":79},{"x":47,"y":33,"v":80},{"x":48,"y":33,"v":81},{"x":49,"y":33,"v":82},{"x":50,"y":33,"v":83},
{"x":1,"y":34,"v":35},{"x":2,"y":34,"v":36},{"x":3,"y":34,"v":37},{"x":4,"y":34,"v":38},{"x":5,"y":34,"v":39},{"x":6,"y":34,"v":40},{"x":7,"y":34,"v":41},{"x":8,"y":34,"v":42},{"x":9,"y":34,"v":43},{"x":10,"y":34,"v":44},{"x":11,"y":34,"v":45},{"x":12,"y":34,"v":46},{"x":13,"y":34,"v":47},{"x":14,"y":34,"v":48},{"x":15,"y":34,"v":49},{"x":16,"y":34,"v":50},{"x":17,"y":34,"v":51},{"x":18,"y":34,"v":52},{"x":19,"y":34,"v":53},{"x":20,"y":34,"v":54},{"x":21,"y":34,"v":55},{"x":22,"y":34,"v":56},{"x":23,"y":34,"v":57},{"x":24,"y":34,"v":58},{"x":25,"y":34,"v":59},{"x":26,"y":34,"v":60},{"x":27,"y":34,"v":61},{"x":28,"y":34,"v":62},{"x":29,"y":34,"v":63},{"x":30,"y":34,"v":64},{"x":31,"y":34,"v":65},{"x":32,"y":34,"v":66},{"x":33,"y":34,"v":67},{"x":34,"y":34,"v":68},{"x":35,"y":34,"v":69},{"x":36,"y":34,"v":70},{"x":37,"y":34,"v":71},{"x":38,"y":34,"v":72},{"x":39,"y":34,"v":73},{"x":40,"y":34,"v":74},{"x":41,"y":34,"v":75},{"x":42,"y":34,"v":76},{"x":43,"y":34,"v":77},{"x":44,"y":34,"v":78},{"x":45,"y":34,"v":79},{"x":46,"y":34,"v":80},{"x":47,"y":34,"v":81},{"x":48,"y":34,"v":82},{"x":49,"y":34,"v":83},{"x":50,"y":34,"v":84},
{"x":1,"y":35,"v":36},{"x":2,"y":35,"v":37},{"x":3,"y":35,"v":38},{"x":4,"y":35,"v":39},{"x":5,"y":35,"v":40},{"x":6,"y":35,"v":41},{"x":7,"y":35,"v":42},{"x":8,"y":35,"v":43},{"x":9,"y":35,"v":44},{"x":10,"y":35,"v":45},{"x":11,"y":35,"v":46},{"x":12,"y":35,"v":47},{"x":13,"y":35,"v":48},{"x":14,"y":35,"v":49},{"x":15,"y":35,"v":50},{"x":16,"y":35,"v":51},{"x":17,"y":35,"v":52},{"x":18,"y":35,"v":53},{"x":19,"y":35,"v":54},{"x":20,"y":35,"v":55},{"x":21,"y":35,"v":56},{"x":22,"y":35,"v":57},{"x":23,"y":35,"v":58},{"x":24,"y":35,"v":59},{"x":25,"y":35,"v":60},{"x":26,"y":35,"v":61},{"x":27,"y":35,"v":62},{"x":28,"y":35,"v":63},{"x":29,"y":35,"v":64},{"x":30,"y":35,"v":65},{"x":31,"y":35,"v":66},{"x":32,"y":35,"v":67},{"x":33,"y":35,"v":68},{"x":34,"y":35,"v":69},{"x":35,"y":35,"v":70},{"x":36,"y":35,"v":71},{"x":37,"y":35,"v":72},{"x":38,"y":35,"v":73},{"x":39,"y":35,"v":74},{"x":40,"y":35,"v":75},{"x":41,"y":35,"v":76},{"x":42,"y":35,"v":77},{"x":43,"y":35,"v":78},{"x":44,"y":35,"v":79},{"x":45,"y":35,"v":80},{"x":46,"y":35,"v":81},{"x":47,"y":35,"v":82},{"x":48,"y":35,"v":83},{"x":49,"y":35,"v":84},{"x":50,"y":35,"v":85},
{"x":1,"y":36,"v":37},{"x":2,"y":36,"v":38},{"x":3,"y":36,"v":39},{"x":4,"y":36,"v":40},{"x":5,"y":36,"v":41},{"x":6,"y":36,"v":42},{"x":7,"y":36,"v":43},{"x":8,"y":36,"v":44},{"x":9,"y":36,"v":45},{"x":10,"y":36,"v":46},{"x":11,"y":36,"v":47},{"x":12,"y":36,"v":48},{"x":13,"y":36,"v":49},{"x":14,"y":36,"v":50},{"x":15,"y":36,"v":51},{"x":16,"y":36,"v":52},{"x":17,"y":36,"v":53},{"x":18,"y":36,"v":54},{"x":19,"y":36,"v":55},{"x":20,"y":36,"v":56},{"x":21,"y":36,"v":57},{"x":22,"y":36,"v":58},{"x":23,"y":36,"v":59},{"x":24,"y":36,"v":60},{"x":25,"y":36,"v":61},{"x":26,"y":36,"v":62},{"x":27,"y":36,"v":63},{"x":28,"y":36,"v":64},{"x":29,"y":36,"v":65},{"x":30,"y":36,"v":66},{"x":31,"y":36,"v":67},{"x":32,"y":36,"v":68},{"x":33,"y":36,"v":69},{"x":34,"y":36,"v":70},{"x":35,"y":36,"v":71},{"x":36,"y":36,"v":72},{"x":37,"y":36,"v":73},{"x":38,"y":36,"v":74},{"x":39,"y":36,"v":75},{"x":40,"y":36,"v":76},{"x":41,"y":36,"v":77},{"x":42,"y":36,"v":78},{"x":43,"y":36,"v":79},{"x":44,"y":36,"v":80},{"x":45,"y":36,"v":81},{"x":46,"y":36,"v":82},{"x":47,"y":36,"v":83},{"x":48,"y":36,"v":84},{"x":49,"y":36,"v":85},{"x":50,"y":36,"v":86},
{"x":1,"y":37,"v":38},{"x":2,"y":37,"v":39},{"x":3,"y":37,"v":40},{"x":4,"y":37,"v":41},{"x":5,"y":37,"v":42},{"x":6,"y":37,"v":43},{"x":7,"y":37,"v":44},{"x":8,"y":37,"v":45},{"x":9,"y":37,"v":46},{"x":10,"y":37,"v":47},{"x":11,"y":37,"v":48},{"x":12,"y":37,"v":49},{"x":13,"y":37,"v":50},{"x":14,"y":37,"v":51},{"x":15,"y":37,"v":52},{"x":16,"y":37,"v":53},{"x":17,"y":37,"v":54},{"x":18,"y":37,"v":55},{"x":19,"y":37,"v":56},{"x":20,"y":37,"v":57},{"x":21,"y":37,"v":58},{"x":22,"y":37,"v":59},{"x":23,"y":37,"v":60},{"x":24,"y":37,"v":61},{"x":25,"y":37,"v":62},{"x":26,"y":37,"v":63},{"x":27,"y":37,"v":64},{"x":28,"y":37,"v":65},{"x":29,"y":37,"v":66},{"x":30,"y":37,"v":67},{"x":31,"y":37,"v":68},{"x":32,"y":37,"v":69},{"x":33,"y":37,"v":70},{"x":34,"y":37,"v":71},{"x":35,"y":37,"v":72},{"x":36,"y":37,"v":73},{"x":37,"y":37,"v":74},{"x":38,"y":37,"v":75},{"x":39,"y":37,"v":76},{"x":40,"y":37,"v":77},{"x":41,"y":37,"v":78},{"x":42,"y":37,"v":79},{"x":43,"y":37,"v":80},{"x":44,"y":37,"v":81},{"x":45,"y":37,"v":82},{"x":46,"y":37,"v":83},{"x":47,"y":37,"v":84},{"x":48,"y":37,"v":85},{"x":49,"y":37,"v":86},{"x":50,"y":37,"v":87},
{"x":1,"y":38,"v":39},{"x":2,"y":38,"v":40},{"x":3,"y":38,"v":41},{"x":4,"y":38,"v":42},{"x":5,"y":38,"v":43},{"x":6,"y":38,"v":44},{"x":7,"y":38,"v":45},{"x":8,"y":38,"v":46},{"x":9,"y":38,"v":47},{"x":10,"y":38,"v":48},{"x":11,"y":38,"v":49},{"x":12,"y":38,"v":50},{"x":13,"y":38,"v":51},{"x":14,"y":38,"v":52},{"x":15,"y":38,"v":53},{"x":16,"y":38,"v":54},{"x":17,"y":38,"v":55},{"x":18,"y":38,"v":56},{"x":19,"y":38,"v":57},{"x":20,"y":38,"v":58},{"x":21,"y":38,"v":59},{"x":22,"y":38,"v":60},{"x":23,"y":38,"v":61},{"x":24,"y":38,"v":62},{"x":25,"y":38,"v":63},{"x":26,"y":38,"v":64},{"x":27,"y":38,"v":65},{"x":28,"y":38,"v":66},{"x":29,"y":38,"v":67},{"x":30,"y":38,"v":68},{"x":31,"y":38,"v":69},{"x":32,"y":38,"v":70},{"x":33,"y":38,"v":71},{"x":34,"y":38,"v":72},{"x":35,"y":38,"v":73},{"x":36,"y":38,"v":74},{"x":37,"y":38,"v":75},{"x":38,"y":38,"v":76},{"x":39,"y":38,"v":77},{"x":40,"y":38,"v":78},{"x":41,"y":38,"v":79},{"x":42,"y":38,"v":80},{"x":43,"y":38,"v":81},{"x":44,"y":38,"v":82},{"x":45,"y":38,"v":83},{"x":46,"y":38,"v":84},{"x":47,"y":38,"v":85},{"x":48,"y":38,"v":86},{"x":49,"y":38,"v":87},{"x":50,"y":38,"v":88},
{"x":1,"y":39,"v":40},{"x":2,"y":39,"v":41},{"x":3,"y":39,"v":42},{"x":4,"y":39,"v":43},{"x":5,"y":39,"v":44},{"x":6,"y":39,"v":45},{"x":7,"y":39,"v":46},{"x":8,"y":39,"v":47},{"x":9,"y":39,"v":48},{"x":10,"y":39,"v":49},{"x":11,"y":39,"v":50},{"x":12,"y":39,"v":51},{"x":13,"y":39,"v":52},{"x":14,"y":39,"v":53},{"x":15,"y":39,"v":54},{"x":16,"y":39,"v":55},{"x":17,"y":39,"v":56},{"x":18,"y":39,"v":57},{"x":19,"y":39,"v":58},{"x":20,"y":39,"v":59},{"x":21,"y":39,"v":60},{"x":22,"y":39,"v":61},{"x":23,"y":39,"v":62},{"x":24,"y":39,"v":63},{"x":25,"y":39,"v":64},{"x":26,"y":39,"v":65},{"x":27,"y":39,"v":66},{"x":28,"y":39,"v":67},{"x":29,"y":39,"v":68},{"x":30,"y":39,"v":69},{"x":31,"y":39,"v":70},{"x":32,"y":39,"v":71},{"x":33,"y":39,"v":72},{"x":34,"y":39,"v":73},{"x":35,"y":39,"v":74},{"x":36,"y":39,"v":75},{"x":37,"y":39,"v":76},{"x":38,"y":39,"v":77},{"x":39,"y":39,"v":78},{"x":40,"y":39,"v":79},{"x":41,"y":39,"v":80},{"x":42,"y":39,"v":81},{"x":43,"y":39,"v":82},{"x":44,"y":39,"v":83},{"x":45,"y":39,"v":84},{"x":46,"y":39,"v":85},{"x":47,"y":39,"v":86},{"x":48,"y":39,"v":87},{"x":49,"y":39,"v":88},{"x":50,"y":39,"v":89},
{"x":1,"y":40,"v":41},{"x":2,"y":40,"v":42},{"x":3,"y":40,"v":43},{"x":4,"y":40,"v":44},{"x":5,"y":40,"v":45},{"x":6,"y":40,"v":46},{"x":7,"y":40,"v":47},{"x":8,"y":40,"v":48},{"x":9,"y":40,"v":49},{"x":10,"y":40,"v":50},{"x":11,"y":40,"v":51},{"x":12,"y":40,"v":52},{"x":13,"y":40,"v":53},{"x":14,"y":40,"v":54},{"x":15,"y":40,"v":55},{"x":16,"y":40,"v":56},{"x":17,"y":40,"v":57},{"x":18,"y":40,"v":58},{"x":19,"y":40,"v":59},{"x":20,"y":40,"v":60},{"x":21,"y":40,"v":61},{"x":22,"y":40,"v":62},{"x":23,"y":40,"v":63},{"x":24,"y":40,"v":64},{"x":25,"y":40,"v":65},{"x":26,"y":40,"v":66},{"x":27,"y":40,"v":67},{"x":28,"y":40,"v":68},{"x":29,"y":40,"v":69},{"x":30,"y":40,"v":70},{"x":31,"y":40,"v":71},{"x":32,"y":40,"v":72},{"x":33,"y":40,"v":73},{"x":34,"y":40,"v":74},{"x":35,"y":40,"v":75},{"x":36,"y":40,"v":76},{"x":37,"y":40,"v":77},{"x":38,"y":40,"v":78},{"x":39,"y":40,"v":79},{"x":40,"y":40,"v":80},{"x":41,"y":40,"v":81},{"x":42,"y":40,"v":82},{"x":43,"y":40,"v":83},{"x":44,"y":40,"v":84},{"x":45,"y":40,"v":85},{"x":46,"y":40,"v":86},{"x":47,"y":40,"v":87},{"x":48,"y":40,"v":88},{"x":49,"y":40,"v":89},{"x":50,"y":40,"v":90},
{"x":1,"y":41,"v":42},{"x":2,"y":41,"v":43},{"x":3,"y":41,"v":44},{"x":4,"y":41,"v":45},{"x":5,"y":41,"v":46},{"x":6,"y":41,"v":47},{"x":7,"y":41,"v":48},{"x":8,"y":41,"v":49},{"x":9,"y":41,"v":50},{"x":10,"y":41,"v":51},{"x":11,"y":41,"v":52},{"x":12,"y":41,"v":53},{"x":13,"y":41,"v":54},{"x":14,"y":41,"v":55},{"x":15,"y":41,"v":56},{"x":16,"y":41,"v":57},{"x":17,"y":41,"v":58},{"x":18,"y":41,"v":59},{"x":19,"y":41,"v":60},{"x":20,"y":41,"v":61},{"x":21,"y":41,"v":62},{"x":22,"y":41,"v":63},{"x":23,"y":41,"v":64},{"x":24,"y":41,"v":65},{"x":25,"y":41,"v":66},{"x":26,"y":41,"v":67},{"x":27,"y":41,"v":68},{"x":28,"y":41,"v":69},{"x":29,"y":41,"v":70},{"x":30,"y":41,"v":71},{"x":31,"y":41,"v":72},{"x":32,"y":41,"v":73},{"x":33,"y":41,"v":74},{"x":34,"y":41,"v":75},{"x":35,"y":41,"v":76},{"x":36,"y":41,"v":77},{"x":37,"y":41,"v":78},{"x":38,"y":41,"v":79},{"x":39,"y":41,"v":80},{"x":40,"y":41,"v":81},{"x":41,"y":41,"v":82},{"x":42,"y":41,"v":83},{"x":43,"y":41,"v":84},{"x":44,"y":41,"v":85},{"x":45,"y":41,"v":86},{"x":46,"y":41,"v":87},{"x":47,"y":41,"v":88},{"x":48,"y":41,"v":89},{"x":49,"y":41,"v":90},{"x":50,"y":41,"v":91},
{"x":1,"y":42,"v":43},{"x":2,"y":42,"v":44},{"x":3,"y":42,"v":45},{"x":4,"y":42,"v":46},{"x":5,"y":42,"v":47},{"x":6,"y":42,"v":48},{"x":7,"y":42,"v":49},{"x":8,"y":42,"v":50},{"x":9,"y":42,"v":51},{"x":10,"y":42,"v":52},{"x":11,"y":42,"v":53},{"x":12,"y":42,"v":54},{"x":13,"y":42,"v":55},{"x":14,"y":42,"v":56},{"x":15,"y":42,"v":57},{"x":16,"y":42,"v":58},{"x":17,"y":42,"v":59},{"x":18,"y":42,"v":60},{"x":19,"y":42,"v":61},{"x":20,"y":42,"v":62},{"x":21,"y":42,"v":63},{"x":22,"y":42,"v":64},{"x":23,"y":42,"v":65},{"x":24,"y":42,"v":66},{"x":25,"y":42,"v":67},{"x":26,"y":42,"v":68},{"x":27,"y":42,"v":69},{"x":28,"y":42,"v":70},{"x":29,"y":42,"v":71},{"x":30,"y":42,"v":72},{"x":31,"y":42,"v":73},{"x":32,"y":42,"v":74},{"x":33,"y":42,"v":75},{"x":34,"y":42,"v":76},{"x":35,"y":42,"v":77},{"x":36,"y":42,"v":78},{"x":37,"y":42,"v":79},{"x":38,"y":42,"v":80},{"x":39,"y":42,"v":81},{"x":40,"y":42,"v":82},{"x":41,"y":42,"v":83},{"x":42,"y":42,"v":84},{"x":43,"y":42,"v":85},{"x":44,"y":42,"v":86},{"x":45,"y":42,"v":87},{"x":46,"y":42,"v":88},{"x":47,"y":42,"v":89},{"x":48,"y":42,"v":90},{"x":49,"y":42,"v":91},{"x":50,"y":42,"v":92},
{"x":1,"y":43,"v":44},{"x":2,"y":43,"v":45},{"x":3,"y":43,"v":46},{"x":4,"y":43,"v":47},{"x":5,"y":43,"v":48},{"x":6,"y":43,"v":49},{"x":7,"y":43,"v":50},{"x":8,"y":43,"v":51},{"x":9,"y":43,"v":52},{"x":10,"y":43,"v":53},{"x":11,"y":43,"v":54},{"x":12,"y":43,"v":55},{"x":13,"y":43,"v":56},{"x":14,"y":43,"v":57},{"x":15,"y":43,"v":58},{"x":16,"y":43,"v":59},{"x":17,"y":43,"v":60},{"x":18,"y":43,"v":61},{"x":19,"y":43,"v":62},{"x":20,"y":43,"v":63},{"x":21,"y":43,"v":64},{"x":22,"y":43,"v":65},{"x":23,"y":43,"v":66},{"x":24,"y":43,"v":67},{"x":25,"y":43,"v":68},{"x":26,"y":43,"v":69},{"x":27,"y":43,"v":70},{"x":28,"y":43,"v":71},{"x":29,"y":43,"v":72},{"x":30,"y":43,"v":73},{"x":31,"y":43,"v":74},{"x":32,"y":43,"v":75},{"x":33,"y":43,"v":76},{"x":34,"y":43,"v":77},{"x":35,"y":43,"v":78},{"x":36,"y":43,"v":79},{"x":37,"y":43,"v":80},{"x":38,"y":43,"v":81},{"x":39,"y":43,"v":82},{"x":40,"y":43,"v":83},{"x":41,"y":43,"v":84},{"x":42,"y":43,"v":85},{"x":43,"y":43,"v":86},{"x":44,"y":43,"v":87},{"x":45,"y":43,"v":88},{"x":46,"y":43,"v":89},{"x":47,"y":43,"v":90},{"x":48,"y":43,"v":91},{"x":49,"y":43,"v":92},{"x":50,"y":43,"v":93},
{"x":1,"y":44,"v":45},{"x":2,"y":44,"v":46},{"x":3,"y":44,"v":47},{"x":4,"y":44,"v":48},{"x":5,"y":44,"v":49},{"x":6,"y":44,"v":50},{"x":7,"y":44,"v":51},{"x":8,"y":44,"v":52},{"x":9,"y":44,"v":53},{"x":10,"y":44,"v":54},{"x":11,"y":44,"v":55},{"x":12,"y":44,"v":56},{"x":13,"y":44,"v":57},{"x":14,"y":44,"v":58},{"x":15,"y":44,"v":59},{"x":16,"y":44,"v":60},{"x":17,"y":44,"v":61},{"x":18,"y":44,"v":62},{"x":19,"y":44,"v":63},{"x":20,"y":44,"v":64},{"x":21,"y":44,"v":65},{"x":22,"y":44,"v":66},{"x":23,"y":44,"v":67},{"x":24,"y":44,"v":68},{"x":25,"y":44,"v":69},{"x":26,"y":44,"v":70},{"x":27,"y":44,"v":71},{"x":28,"y":44,"v":72},{"x":29,"y":44,"v":73},{"x":30,"y":44,"v":74},{"x":31,"y":44,"v":75},{"x":32,"y":44,"v":76},{"x":33,"y":44,"v":77},{"x":34,"y":44,"v":78},{"x":35,"y":44,"v":79},{"x":36,"y":44,"v":80},{"x":37,"y":44,"v":81},{"x":38,"y":44,"v":82},{"x":39,"y":44,"v":83},{"x":40,"y":44,"v":84},{"x":41,"y":44,"v":85},{"x":42,"y":44,"v":86},{"x":43,"y":44,"v":87},{"x":44,"y":44,"v":88},{"x":45,"y":44,"v":89},{"x":46,"y":44,"v":90},{"x":47,"y":44,"v":91},{"x":48,"y":44,"v":92},{"x":49,"y":44,"v":93},{"x":50,"y":44,"v":94},
{"x":1,"y":45,"v":46},{"x":2,"y":45,"v":47},{"x":3,"y":45,"v":48},{"x":4,"y":45,"v":49},{"x":5,"y":45,"v":50},{"x":6,"y":45,"v":51},{"x":7,"y":45,"v":52},{"x":8,"y":45,"v":53},{"x":9,"y":45,"v":54},{"x":10,"y":45,"v":55},{"x":11,"y":45,"v":56},{"x":12,"y":45,"v":57},{"x":13,"y":45,"v":58},{"x":14,"y":45,"v":59},{"x":15,"y":45,"v":60},{"x":16,"y":45,"v":61},{"x":17,"y":45,"v":62},{"x":18,"y":45,"v":63},{"x":19,"y":45,"v":64},{"x":20,"y":45,"v":65},{"x":21,"y":45,"v":66},{"x":22,"y":45,"v":67},{"x":23,"y":45,"v":68},{"x":24,"y":45,"v":69},{"x":25,"y":45,"v":70},{"x":26,"y":45,"v":71},{"x":27,"y":45,"v":72},{"x":28,"y":45,"v":73},{"x":29,"y":45,"v":74},{"x":30,"y":45,"v":75},{"x":31,"y":45,"v":76},{"x":32,"y":45,"v":77},{"x":33,"y":45,"v":78},{"x":34,"y":45,"v":79},{"x":35,"y":45,"v":80},{"x":36,"y":45,"v":81},{"x":37,"y":45,"v":82},{"x":38,"y":45,"v":83},{"x":39,"y":45,"v":84},{"x":40,"y":45,"v":85},{"x":41,"y":45,"v":86},{"x":42,"y":45,"v":87},{"x":43,"y":45,"v":88},{"x":44,"y":45,"v":89},{"x":45,"y":45,"v":90},{"x":46,"y":45,"v":91},{"x":47,"y":45,"v":92},{"x":48,"y":45,"v":93},{"x":49,"y":45,"v":94},{"x":50,"y":45,"v":95},
{"x":1,"y":46,"v":47},{"x":2,"y":46,"v":48},{"x":3,"y":46,"v":49},{"x":4,"y":46,"v":50},{"x":5,"y":46,"v":51},{"x":6,"y":46,"v":52},{"x":7,"y":46,"v":53},{"x":8,"y":46,"v":54},{"x":9,"y":46,"v":55},{"x":10,"y":46,"v":56},{"x":11,"y":46,"v":57},{"x":12,"y":46,"v":58},{"x":13,"y":46,"v":59},{"x":14,"y":46,"v":60},{"x":15,"y":46,"v":61},{"x":16,"y":46,"v":62},{"x":17,"y":46,"v":63},{"x":18,"y":46,"v":64},{"x":19,"y":46,"v":65},{"x":20,"y":46,"v":66},{"x":21,"y":46,"v":67},{"x":22,"y":46,"v":68},{"x":23,"y":46,"v":69},{"x":24,"y":46,"v":70},{"x":25,"y":46,"v":71},{"x":26,"y":46,"v":72},{"x":27,"y":46,"v":73},{"x":28,"y":46,"v":74},{"x":29,"y":46,"v":75},{"x":30,"y":46,"v":76},{"x":31,"y":46,"v":77},{"x":32,"y":46,"v":78},{"x":33,"y":46,"v":79},{"x":34,"y":46,"v":80},{"x":35,"y":46,"v":81},{"x":36,"y":46,"v":82},{"x":37,"y":46,"v":83},{"x":38,"y":46,"v":84},{"x":39,"y":46,"v":85},{"x":40,"y":46,"v":86},{"x":41,"y":46,"v":87},{"x":42,"y":46,"v":88},{"x":43,"y":46,"v":89},{"x":44,"y":46,"v":90},{"x":45,"y":46,"v":91},{"x":46,"y":46,"v":92},{"x":47,"y":46,"v":93},{"x":48,"y":46,"v":94},{"x":49,"y":46,"v":95},{"x":50,"y":46,"v":96},
{"x":1,"y":47,"v":48},{"x":2,"y":47,"v":49},{"x":3,"y":47,"v":50},{"x":4,"y":47,"v":51},{"x":5,"y":47,"v":52},{"x":6,"y":47,"v":53},{"x":7,"y":47,"v":54},{"x":8,"y":47,"v":55},{"x":9,"y":47,"v":56},{"x":10,"y":47,"v":57},{"x":11,"y":47,"v":58},{"x":12,"y":47,"v":59},{"x":13,"y":47,"v":60},{"x":14,"y":47,"v":61},{"x":15,"y":47,"v":62},{"x":16,"y":47,"v":63},{"x":17,"y":47,"v":64},{"x":18,"y":47,"v":65},{"x":19,"y":47,"v":66},{"x":20,"y":47,"v":67},{"x":21,"y":47,"v":68},{"x":22,"y":47,"v":69},{"x":23,"y":47,"v":70},{"x":24,"y":47,"v":71},{"x":25,"y":47,"v":72},{"x":26,"y":47,"v":73},{"x":27,"y":47,"v":74},{"x":28,"y":47,"v":75},{"x":29,"y":47,"v":76},{"x":30,"y":47,"v":77},{"x":31,"y":47,"v":78},{"x":32,"y":47,"v":79},{"x":33,"y":47,"v":80},{"x":34,"y":47,"v":81},{"x":35,"y":47,"v":82},{"x":36,"y":47,"v":83},{"x":37,"y":47,"v":84},{"x":38,"y":47,"v":85},{"x":39,"y":47,"v":86},{"x":40,"y":47,"v":87},{"x":41,"y":47,"v":88},{"x":42,"y":47,"v":89},{"x":43,"y":47,"v":90},{"x":44,"y":47,"v":91},{"x":45,"y":47,"v":92},{"x":46,"y":47,"v":93},{"x":47,"y":47,"v":94},{"x":48,"y":47,"v":95},{"x":49,"y":47,"v":96},{"x":50,"y":47,"v":97},
{"x":1,"y":48,"v":49},{"x":2,"y":48,"v":50},{"x":3,"y":48,"v":51},{"x":4,"y":48,"v":52},{"x":5,"y":48,"v":53},{"x":6,"y":48,"v":54},{"x":7,"y":48,"v":55},{"x":8,"y":48,"v":56},{"x":9,"y":48,"v":57},{"x":10,"y":48,"v":58},{"x":11,"y":48,"v":59},{"x":12,"y":48,"v":60},{"x":13,"y":48,"v":61},{"x":14,"y":48,"v":62},{"x":15,"y":48,"v":63},{"x":16,"y":48,"v":64},{"x":17,"y":48,"v":65},{"x":18,"y":48,"v":66},{"x":19,"y":48,"v":67},{"x":20,"y":48,"v":68},{"x":21,"y":48,"v":69},{"x":22,"y":48,"v":70},{"x":23,"y":48,"v":71},{"x":24,"y":48,"v":72},{"x":25,"y":48,"v":73},{"x":26,"y":48,"v":74},{"x":27,"y":48,"v":75},{"x":28,"y":48,"v":76},{"x":29,"y":48,"v":77},{"x":30,"y":48,"v":78},{"x":31,"y":48,"v":79},{"x":32,"y":48,"v":80},{"x":33,"y":48,"v":81},{"x":34,"y":48,"v":82},{"x":35,"y":48,"v":83},{"x":36,"y":48,"v":84},{"x":37,"y":48,"v":85},{"x":38,"y":48,"v":86},{"x":39,"y":48,"v":87},{"x":40,"y":48,"v":88},{"x":41,"y":48,"v":89},{"x":42,"y":48,"v":90},{"x":43,"y":48,"v":91},{"x":44,"y":48,"v":92},{"x":45,"y":48,"v":93},{"x":46,"y":48,"v":94},{"x":47,"y":48,"v":95},{"x":48,"y":48,"v":96},{"x":49,"y":48,"v":97},{"x":50,"y":48,"v":98},
{"x":1,"y":49,"v":50},{"x":2,"y":49,"v":51},{"x":3,"y":49,"v":52},{"x":4,"y":49,"v":53},{"x":5,"y":49,"v":54},{"x":6,"y":49,"v":55},{"x":7,"y":49,"v":56},{"x":8,"y":49,"v":57},{"x":9,"y":49,"v":58},{"x":10,"y":49,"v":59},{"x":11,"y":49,"v":60},{"x":12,"y":49,"v":61},{"x":13,"y":49,"v":62},{"x":14,"y":49,"v":63},{"x":15,"y":49,"v":64},{"x":16,"y":49,"v":65},{"x":17,"y":49,"v":66},{"x":18,"y":49,"v":67},{"x":19,"y":49,"v":68},{"x":20,"y":49,"v":69},{"x":21,"y":49,"v":70},{"x":22,"y":49,"v":71},{"x":23,"y":49,"v":72},{"x":24,"y":49,"v":73},{"x":25,"y":49,"v":74},{"x":26,"y":49,"v":75},{"x":27,"y":49,"v":76},{"x":28,"y":49,"v":77},{"x":29,"y":49,"v":78},{"x":30,"y":49,"v":79},{"x":31,"y":49,"v":80},{"x":32,"y":49,"v":81},{"x":33,"y":49,"v":82},{"x":34,"y":49,"v":83},{"x":35,"y":49,"v":84},{"x":36,"y":49,"v":85},{"x":37,"y":49,"v":86},{"x":38,"y":49,"v":87},{"x":39,"y":49,"v":88},{"x":40,"y":49,"v":89},{"x":41,"y":49,"v":90},{"x":42,"y":49,"v":91},{"x":43,"y":49,"v":92},{"x":44,"y":49,"v":93},{"x":45,"y":49,"v":94},{"x":46,"y":49,"v":95},{"x":47,"y":49,"v":96},{"x":48,"y":49,"v":97},{"x":49,"y":49,"v":98},{"x":50,"y":49,"v":99},
{"x":1,"y":50,"v":51},{"x":2,"y":50,"v":52},{"x":3,"y":50,"v":53},{"x":4,"y":50,"v":54},{"x":5,"y":50,"v":55},{"x":6,"y":50,"v":56},{"x":7,"y":50,"v":57},{"x":8,"y":50,"v":58},{"x":9,"y":50,"v":59},{"x":10,"y":50,"v":60},{"x":11,"y":50,"v":61},{"x":12,"y":50,"v":62},{"x":13,"y":50,"v":63},{"x":14,"y":50,"v":64},{"x":15,"y":50,"v":65},{"x":16,"y":50,"v":66},{"x":17,"y":50,"v":67},{"x":18,"y":50,"v":68},{"x":19,"y":50,"v":69},{"x":20,"y":50,"v":70},{"x":21,"y":50,"v":71},{"x":22,"y":50,"v":72},{"x":23,"y":50,"v":73},{"x":24,"y":50,"v":74},{"x":25,"y":50,"v":75},{"x":26,"y":50,"v":76},{"x":27,"y":50,"v":77},{"x":28,"y":50,"v":78},{"x":29,"y":50,"v":79},{"x":30,"y":50,"v":80},{"x":31,"y":50,"v":81},{"x":32,"y":50,"v":82},{"x":33,"y":50,"v":83},{"x":34,"y":50,"v":84},{"x":35,"y":50,"v":85},{"x":36,"y":50,"v":86},{"x":37,"y":50,"v":87},{"x":38,"y":50,"v":88},{"x":39,"y":50,"v":89},{"x":40,"y":50,"v":90},{"x":41,"y":50,"v":91},{"x":42,"y":50,"v":92},{"x":43,"y":50,"v":93},{"x":44,"y":50,"v":94},{"x":45,"y":50,"v":95},{"x":46,"y":50,"v":96},{"x":47,"y":50,"v":97},{"x":48,"y":50,"v":98},{"x":49,"y":50,"v":99},{"x":50,"y":50,"v":100}
]},
"resolve": {"axis": {"x": "independent", "y": "independent"}},
"layer": [
  {
    "mark": {"type": "rect", "width": {"band": 1.06}, "height": {"band": 1.08}},
    "encoding": {
      "x": {"field": "x", "type": "ordinal", "scale": {"paddingInner": 0, "paddingOuter": 0},
        "axis": {"orient": "bottom", "values": [5,10,15,20,25,30,35,40,45,50], "labelAngle": 0, "labelPadding": 10,
          "labelExpr": "datum.value==5?'Australia':datum.value==15?'New Zealand':datum.value==25?'Canada':datum.value==35?'UK':datum.value==45?'Singapore':datum.value==50?'USA':''",
          "title": "(National Spectrum Regulators)", "titlePadding": 5}},
      "y": {"field": "y", "type": "ordinal", "scale": {"paddingInner": 0, "paddingOuter": 0},
        "axis": {"orient": "left", "values": [5,10,15,20,25,30,35,40,45,50], "labelPadding": 11,
          "labelExpr": "datum.value==5?'Pilot Project':datum.value==15?'Spectrum Campaigns':datum.value==25?'TVWS Freq':datum.value==35?'License Exempt':datum.value==45?'Pilot Projects':datum.value==50?'Spectrum Regulators':''",
          "title": null}},
      "fill": {"field": "v", "type": "quantitative",
        "scale": {"domain": [2, 38, 75, 100], "range": ["#050000", "#ff0000", "#ffff00", "#ffffff"], "interpolate": "rgb"},
        "legend": {"type": "gradient", "orient": "none", "legendX": 733, "legendY": 1, "direction": "vertical", "gradientLength": 444, "gradientThickness": 35, "gradientStrokeColor": "black", "gradientStrokeWidth": 1, "values": [10,20,30,40,50,60,70,80,90,100], "labelOffset": 4, "labelOverlap": false, "title": null}}
    }
  },
  {
    "data": {"values": [{"x": 1, "y": 1}]},
    "mark": {"type": "rect", "opacity": 0},
    "encoding": {
      "x": {"field": "x", "type": "ordinal",
        "axis": {"orient": "top", "values": [5,10,15,20,25,30,35,40,45,50], "labels": false, "title": null}},
      "y": {"field": "y", "type": "ordinal",
        "axis": {"orient": "right", "values": [5,10,15,20,25,30,35,40,45,50], "labels": false, "title": null}}
    }
  }
]
}
